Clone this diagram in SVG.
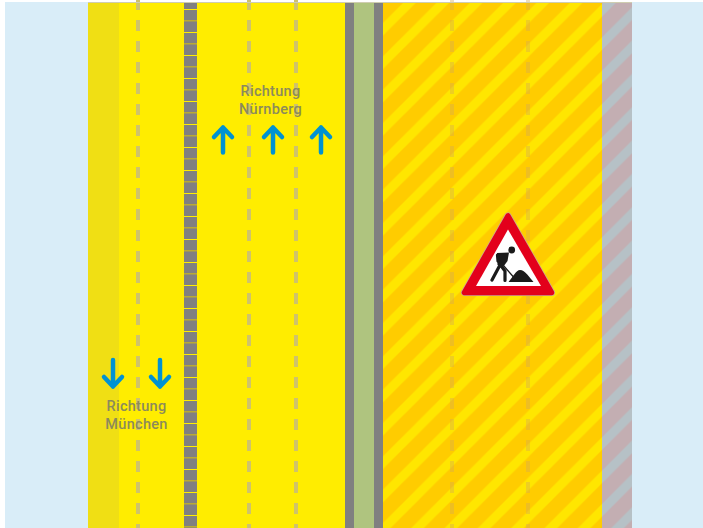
<svg xmlns="http://www.w3.org/2000/svg" width="703" height="528" viewBox="0 0 703 528">
<defs>
<style>
.dash{stroke:#cfc36a;stroke-width:4;stroke-dasharray:11 10;fill:none}
.dash2{stroke:#d4ab55;stroke-opacity:.4;stroke-width:4;stroke-dasharray:11 10;fill:none}
.arrow{stroke:#0092d2;stroke-width:4.500;fill:none;stroke-linecap:round;stroke-linejoin:round}
.lbl{font-family:"Roboto","Liberation Sans",sans-serif;font-weight:500;font-size:14.5px;fill:#8c8a5c;text-anchor:middle;letter-spacing:.3px}
.limb{stroke:#1a1a1a;fill:none;stroke-linecap:round;stroke-linejoin:round}
</style>
<pattern id="st1" width="33.333" height="33.333" patternUnits="userSpaceOnUse">
<rect width="33.333" height="33.333" fill="#ffcc00"/>
<path d="M-5 17.300L17.300 -5M-5 50.630L50.630 -5" stroke="#ffe600" stroke-width="9" fill="none"/>
</pattern>
<pattern id="st2" width="33.333" height="33.333" patternUnits="userSpaceOnUse">
<rect width="33.333" height="33.333" fill="#c3aeb2"/>
<path d="M-5 17.300L17.300 -5M-5 50.630L50.630 -5" stroke="#b6c1c6" stroke-width="9" fill="none"/>
</pattern>
</defs>
<rect width="703" height="528" fill="#fff"/>
<rect x="5" y="2" width="698" height="526" fill="#d9edf8"/>
<g id="carriageway">
<rect x="88" y="2" width="31" height="526" fill="#f0df14"/>
<rect x="119" y="2" width="226" height="526" fill="#ffed00"/>
<rect x="184" y="3" width="13" height="525" fill="#808080"/>
<path d="M190.500 9V528" stroke="#ffed00" stroke-width="13" stroke-dasharray="1 22" fill="none"/>
<path d="M190.500 20V528" stroke="#b9ab34" stroke-width="13" stroke-dasharray="1.500 21.500" fill="none"/>
<path class="dash" d="M138 -1V528"/>
<path class="dash" d="M249 -1V528"/>
<path class="dash" d="M296 -1V528"/>
</g>
<g id="median">
<rect x="345" y="2" width="38" height="526" fill="#808080"/>
<rect x="354" y="2" width="20" height="526" fill="#afc47f"/>
</g>
<g id="works">
<rect x="383" y="3" width="219" height="525" fill="url(#st1)"/>
<path class="dash2" d="M452 -1V528"/>
<path class="dash2" d="M528 -1V528"/>
<rect x="602" y="2" width="30" height="526" fill="url(#st2)"/>
</g>
<rect x="88" y="2" width="544" height="1" fill="#cfcdb0"/>
<g id="arrows-north">
<path class="arrow" d="M223 152.500V127.500M214 137L223 127.500L232 137"/>
<path class="arrow" d="M273 152.500V127.500M264 137L273 127.500L282 137"/>
<path class="arrow" d="M321 152.500V127.500M312 137L321 127.500L330 137"/>
</g>
<g id="arrows-south">
<path class="arrow" d="M113 360V386.500M104 377L113 386.500L122 377"/>
<path class="arrow" d="M160 360V386.500M151 377L160 386.500L169 377"/>
</g>
<g id="label-north">
<text class="lbl" x="270.500" y="96">Richtung</text>
<text class="lbl" x="270.500" y="114">Nürnberg</text>
</g>
<g id="label-south">
<text class="lbl" x="136.500" y="411">Richtung</text>
<text class="lbl" x="136.500" y="429">München</text>
</g>
<g id="sign">
<path d="M508 216L464.500 292.500H551.500Z" fill="#c9a890" stroke="#c9a890" stroke-width="7" stroke-linejoin="round"/>
<path d="M508 216L464.500 292.500H551.500Z" fill="#e3001b" stroke="#e3001b" stroke-width="5.500" stroke-linejoin="round"/>
<path d="M508 229.500L541 286H476Z" fill="#fff"/>
<circle cx="511.700" cy="250" r="3.400" fill="#1a1a1a"/>
<path d="M497 253L509 252.500L507.500 261L503.500 266.500L497.500 265Z" fill="#1a1a1a"/>
<path class="limb" stroke-width="3.200" d="M500 265L492 280M500.500 265L505 271L505 280.500M497.500 255L498 261L502.500 263"/>
<path class="limb" stroke-width="1.300" d="M500 261.500L513.500 277"/>
<path d="M508.500 282C513 277 516 270 520 270C525 270 530 278 533.500 282Z" fill="#1a1a1a"/>
</g>
</svg>
